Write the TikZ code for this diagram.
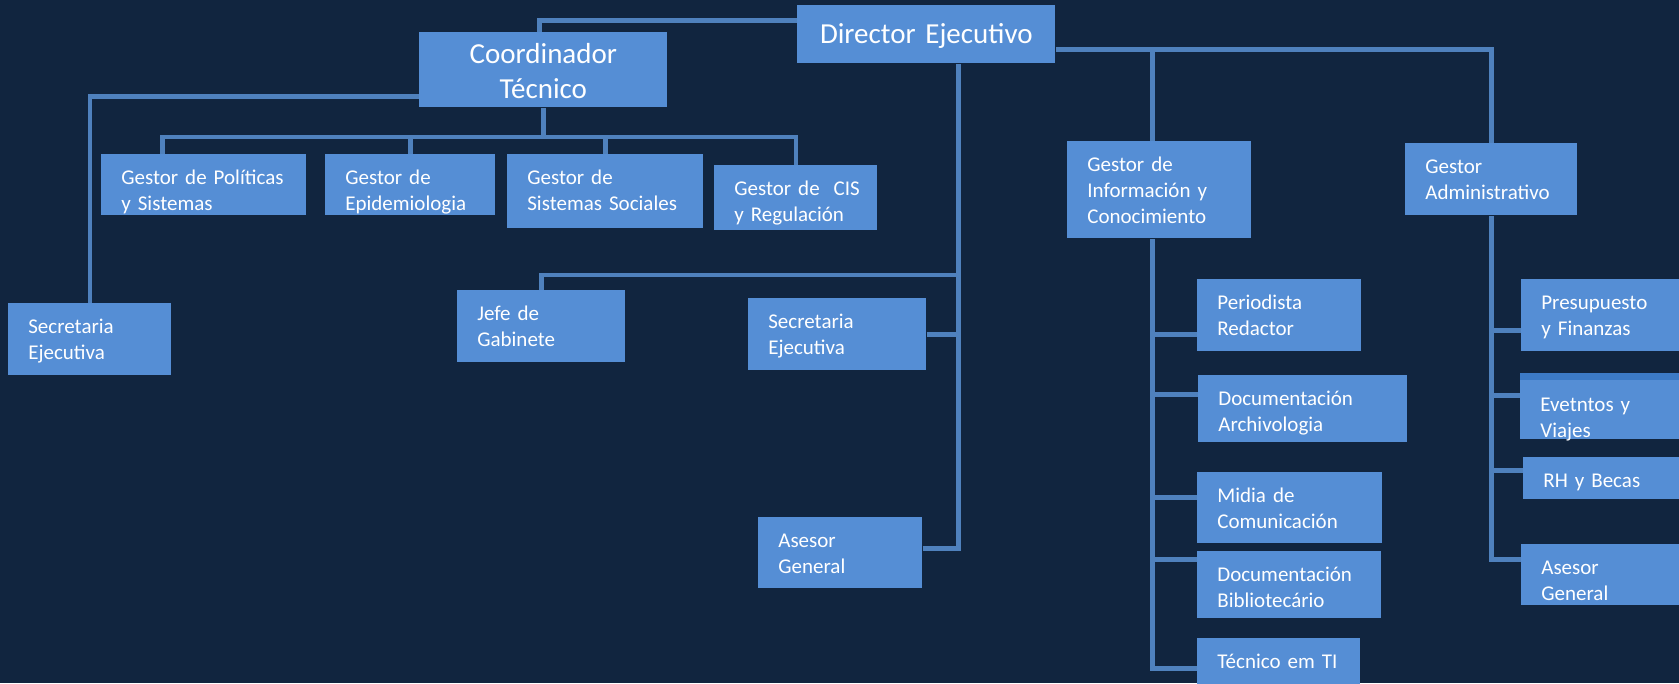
\documentclass[tikz,border=0pt]{standalone}
\usepackage{fontspec}
\setmainfont{Carlito}
\usepackage{tikz}

\definecolor{navy}{RGB}{17,37,63}
\definecolor{boxblue}{RGB}{85,142,213}
\definecolor{lineblue}{RGB}{79,129,189}
\definecolor{stripblue}{RGB}{60,122,198}

\begin{document}
\begin{tikzpicture}[x=0.02cm, y=-0.02cm] % one unit = one pixel, y downwards
	\tikzset{card/.style 2 args={fill=boxblue, text=white, anchor=north west, inner xsep=0.4cm, inner ysep=0pt, align=left, text height=0.6cm, text width=#1, text depth=#2, font=\fontsize{11.95}{14.8}\selectfont}}
	\tikzset{head/.style 2 args={fill=boxblue, text=white, anchor=north west, inner xsep=0.2cm, inner ysep=0pt, align=center, text width=#1, text depth=#2, font=\fontsize{16.5}{19.9}\selectfont}}
	\tikzset{link/.style={draw=lineblue, line width=0.09cm}}
	
	% Background and page size
	\path[use as bounding box, fill=navy] (0,0) rectangle (1679,683);
	\clip (0,0) rectangle (1679,683);
	
	% Top level
	\node[head={4.76cm}{0.4cm}, text height=0.76cm] (dir) at (797,5) {Director Ejecutivo};
	\node[head={4.56cm}{0.88cm}, text height=0.62cm] (coo) at (419,32) {Coordinador\\Técnico};
	
	% Technical branch
	\node[card={3.3cm}{0.62cm}] (pol) at (101,154) {Gestor de Políticas\\y Sistemas};
	\node[card={2.6cm}{0.62cm}] (epi) at (325,154) {Gestor de\\Epidemiologia};
	\node[card={3.12cm}{0.88cm}] (soc) at (507,154) {Gestor de\\Sistemas Sociales};
	\node[card={2.46cm}{0.7cm}] (cis) at (714,165) {\mbox{Gestor de~~CIS}\\y Regulación};
	\node[card={2.46cm}{0.84cm}] (sec1) at (8,303) {Secretaria\\Ejecutiva};
	
	% Staff of the director
	\node[card={2.56cm}{0.84cm}] (jefe) at (457,290) {Jefe de\\Gabinete};
	\node[card={2.76cm}{0.84cm}] (sec2) at (748,298) {Secretaria\\Ejecutiva};
	\node[card={2.48cm}{0.82cm}] (ase1) at (758,517) {Asesor\\General};
	
	% Information branch
	\node[card={2.88cm}{1.34cm}] (info) at (1067,141) {Gestor de\\Información y\\Conocimiento};
	\node[card={2.48cm}{0.84cm}] (per) at (1197,279) {Periodista\\Redactor};
	\node[card={3.38cm}{0.74cm}] (arc) at (1198,375) {Documentación\\Archivologia};
	\node[card={2.9cm}{0.82cm}] (mid) at (1197,472) {Midia de\\Comunicación};
	\node[card={2.88cm}{0.74cm}] (bib) at (1197,551) {Documentación\\Bibliotecário};
	\node[card={2.46cm}{0.44cm}] (tec) at (1197,638) {Técnico em TI};
	
	% Administration branch
	\node[card={2.64cm}{0.84cm}] (adm) at (1405,143) {Gestor\\Administrativo};
	\node[card={2.58cm}{0.84cm}] (pre) at (1521,279) {Presupuesto\\y Finanzas};
	\node[card={2.6cm}{0.56cm}, text height=0.76cm] (eve) at (1520,373) {Evetntos y\\Viajes};
	\fill[stripblue] (eve.north west) rectangle ([yshift=-0.14cm]eve.north east);
	\node[card={2.54cm}{0.24cm}] (rh) at (1523,457) {RH y Becas};
	\node[card={2.58cm}{0.62cm}] (ase2) at (1521,544) {Asesor\\General};
	
	% Trunks
	\coordinate (dtr) at ([xshift=0.64cm]dir.south);
	\coordinate (itr) at ([xshift=-0.14cm]info.south);
	
	% Director connectors
	\draw[link] ([xshift=-0.08cm]coo.north) |- ([yshift=0.28cm]dir.west);
	\draw[link] ([xshift=-0.14cm]info.north) |- ([yshift=-0.3cm]dir.east);
	\draw[link] (adm.north) |- ([yshift=-0.3cm]dir.east);
	\draw[link] (jefe.north) -- ++(0,-15) -| (dtr);
	\draw[link] (sec2.east) -| (dtr);
	\draw[link] ([yshift=0.09cm]ase1.east) -| (dtr);
	
	% Coordinator connectors
	\draw[link] (sec1.north) |- ([yshift=-0.53cm]coo.west);
	\draw[link] ([xshift=-0.83cm]pol.north) -- ++(0,-17) -| (coo.south);
	\foreach \n/\h in {epi/17, soc/17, cis/28}
	{
		\draw[link] (\n.north) -- ++(0,-\h) -| (coo.south);
	}
	
	% Information connectors
	\foreach \n/\s in {per/-0.38, arc/0.29, mid/0.21, bib/0.51, tec/-0.08}
	{
		\draw[link] ([yshift=\s cm]\n.west) -| (itr);
	}
	
	% Administration connectors
	\foreach \n/\s in {pre/-0.3, eve/0.22, rh/0.16, ase2/0.31}
	{
		\draw[link] ([yshift=\s cm]\n.west) -| (adm.south);
	}
	
\end{tikzpicture}
\end{document}
